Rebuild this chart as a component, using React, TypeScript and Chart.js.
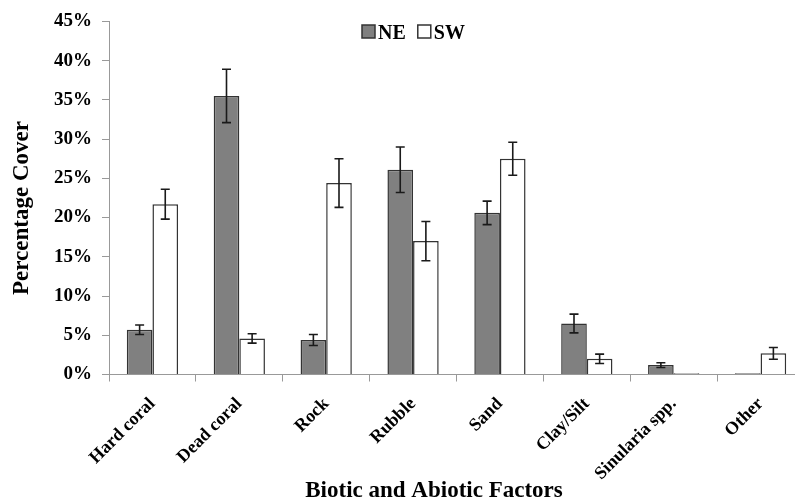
import React, { useEffect, useRef } from "react";
import { Chart, registerables } from "chart.js";

Chart.register(...registerables);

const categories = ["Hard coral", "Dead coral", "Rock", "Rubble", "Sand", "Clay/Silt", "Sinularia spp.", "Other"];
const seriesNames = ["NE", "SW"];
const neValues = [5.7, 35.5, 4.4, 26.1, 20.6, 6.5, 1.2, 0.15];
const neErrors = [0.6, 3.4, 0.7, 2.9, 1.5, 1.2, 0.3, 0];
const swValues = [21.7, 4.6, 24.4, 17.0, 27.5, 2.0, 0.15, 2.7];
const swErrors = [1.9, 0.6, 3.1, 2.5, 2.1, 0.6, 0, 0.75];
const yTickMax = 45;
const yTickStep = 5;
const xTitle = "Biotic and Abiotic Factors";
const yTitle = "Percentage Cover";

const FONT = "'Liberation Serif', 'Times New Roman', serif";
const errorsByDataset = [neErrors, swErrors];

const errorBarPlugin = {
  id: "errorBars",
  afterDatasetsDraw(chart: any) {
    const ctx = chart.ctx;
    const y = chart.scales.y;
    ctx.save();
    ctx.strokeStyle = "#1a1a1a";
    ctx.lineWidth = 1.6;
    chart.data.datasets.forEach((ds: any, di: number) => {
      const meta = chart.getDatasetMeta(di);
      const errs = errorsByDataset[di];
      meta.data.forEach((bar: any, i: number) => {
        const e = errs[i];
        if (!e) return;
        const v = ds.data[i];
        const yt = y.getPixelForValue(v + e);
        const yb = y.getPixelForValue(v - e);
        const x = bar.x;
        const cap = 4.5;
        ctx.beginPath();
        ctx.moveTo(x, yt);
        ctx.lineTo(x, yb);
        ctx.moveTo(x - cap, yt);
        ctx.lineTo(x + cap, yt);
        ctx.moveTo(x - cap, yb);
        ctx.lineTo(x + cap, yb);
        ctx.stroke();
      });
    });
    ctx.restore();
  },
};

const titlesAndLegendPlugin = {
  id: "titlesLegend",
  afterDraw(chart: any) {
    const ctx = chart.ctx;
    ctx.save();
    ctx.fillStyle = "#000";
    // x title
    ctx.font = `bold 23px ${FONT}`;
    ctx.textAlign = "center";
    ctx.textBaseline = "alphabetic";
    ctx.fillText(xTitle, 434, 497);
    // y title
    ctx.save();
    ctx.translate(28, 208);
    ctx.rotate(-Math.PI / 2);
    ctx.fillText(yTitle, 0, 0);
    ctx.restore();
    // legend
    ctx.font = `bold 20px ${FONT}`;
    ctx.textAlign = "left";
    let lx = 362;
    chart.data.datasets.forEach((ds: any) => {
      ctx.fillStyle = ds.backgroundColor;
      ctx.strokeStyle = "#333";
      ctx.lineWidth = 1.5;
      ctx.fillRect(lx, 25, 13, 13);
      ctx.strokeRect(lx, 25, 13, 13);
      ctx.fillStyle = "#000";
      ctx.fillText(ds.label, lx + 16, 39);
      lx += 16 + ctx.measureText(ds.label).width + 12;
    });
    ctx.restore();
  },
};

export default function App() {
  const ref = useRef<HTMLCanvasElement>(null);
  useEffect(() => {
    if (!ref.current) return;
    const chart = new Chart(ref.current, {
      type: "bar",
      data: {
        labels: categories,
        datasets: [
          {
            label: seriesNames[0],
            data: neValues,
            backgroundColor: "#808080",
            borderColor: "#333333",
            borderWidth: 1.5,
            barPercentage: 1,
            categoryPercentage: 0.59,
          },
          {
            label: seriesNames[1],
            data: swValues,
            backgroundColor: "#ffffff",
            borderColor: "#333333",
            borderWidth: 1.5,
            barPercentage: 1,
            categoryPercentage: 0.59,
          },
        ],
      },
      options: {
        responsive: false,
        animation: false,
        layout: { padding: { top: 17, right: 6, left: 0, bottom: 0 } },
        plugins: {
          legend: { display: false },
          tooltip: { enabled: false },
          title: { display: false },
        },
        scales: {
          x: {
            afterFit(scale: any) {
              scale.height = 126.5;
            },
            grid: {
              display: true,
              drawOnChartArea: false,
              drawTicks: true,
              tickLength: 7,
              color: "#999",
              offset: true,
            },
            border: { color: "#999", width: 1 },
            ticks: {
              autoSkip: false,
              maxRotation: 45,
              minRotation: 45,
              padding: 12,
              color: "#000",
              font: { family: FONT, size: 18, weight: "bold" },
            },
          },
          y: {
            min: 0,
            max: yTickMax,
            afterFit(scale: any) {
              scale.width = 109;
            },
            grid: {
              display: true,
              drawOnChartArea: false,
              drawTicks: true,
              tickLength: 7,
              color: "#999",
            },
            border: { color: "#999", width: 1 },
            ticks: {
              stepSize: yTickStep,
              padding: 10,
              color: "#000",
              font: { family: FONT, size: 19, weight: "bold" },
              callback: (v: any) => `${v}%`,
            },
          },
        },
      },
      plugins: [errorBarPlugin, titlesAndLegendPlugin],
    });
    return () => chart.destroy();
  }, []);
  return (
    <div style={{ position: "absolute", left: 0, top: 0, width: 795, height: 501, overflow: "hidden", background: "#fff" }}>
      <canvas ref={ref} width={810} height={501} style={{ display: "block" }} />
    </div>
  );
}
